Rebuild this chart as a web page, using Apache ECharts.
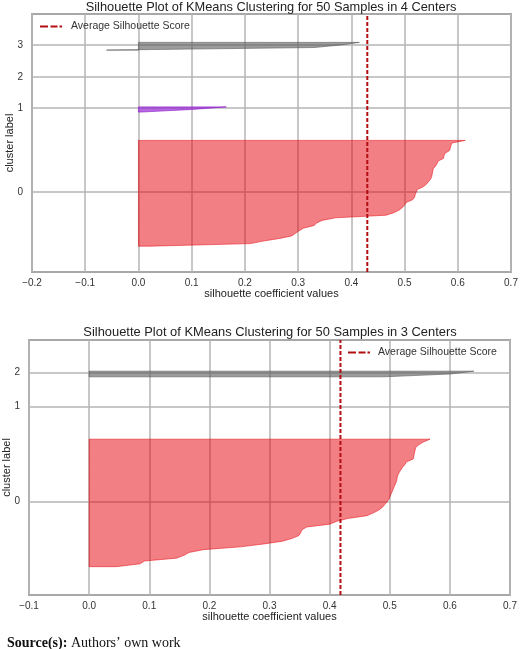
<!DOCTYPE html>
<html>
<head>
<meta charset="utf-8">
<title>Silhouette Plots</title>
<script src="https://cdn.jsdelivr.net/npm/echarts@6/dist/echarts.min.js"></script>
<style>
html, body { margin: 0; padding: 0; background: #fff; }
#silhouette-echarts { width: 520px; height: 649px; }
</style>
</head>
<body>
<div id="silhouette-echarts"></div>
<script>
// silhouette coefficient of every sample, per cluster, sorted ascending (bottom row first)
// 4 centers
var sil4Cluster0 = [0.02, 0.21, 0.235, 0.265, 0.288, 0.295, 0.302, 0.31, 0.33, 0.335,
  0.345, 0.37, 0.465, 0.48, 0.49, 0.496, 0.50, 0.504, 0.515, 0.519,
  0.52, 0.522, 0.524, 0.535, 0.541, 0.545, 0.549, 0.551, 0.552, 0.553,
  0.554, 0.558, 0.561, 0.563, 0.573, 0.574, 0.576, 0.584, 0.586, 0.587,
  0.589, 0.614];
var sil4Cluster1 = [0.005, 0.10, 0.165];
var sil4Cluster2 = [0];
var sil4Cluster3 = [-0.06, 0.33, 0.38, 0.415];
var avgScore4 = 0.43;

// 3 centers
var sil3Cluster0 = [0.045, 0.085, 0.092, 0.145, 0.158, 0.166, 0.19, 0.252, 0.29, 0.322,
  0.338, 0.349, 0.352, 0.354, 0.362, 0.40, 0.412, 0.43, 0.462, 0.473,
  0.482, 0.488, 0.492, 0.496, 0.499, 0.501, 0.503, 0.505, 0.507, 0.509,
  0.511, 0.512, 0.513, 0.515, 0.518, 0.521, 0.525, 0.528, 0.539, 0.54,
  0.541, 0.542, 0.543, 0.548, 0.556, 0.567];
var sil3Cluster1 = [0];
var sil3Cluster2 = [0.49, 0.60, 0.64];
var avgScore3 = 0.418;

var clusterColors4 = ["rgba(230,0,10,0.5)", "rgba(150,40,210,0.7)", "rgba(230,160,40,0.5)", "rgba(90,90,90,0.6)"];
var clusterColors3 = ["rgba(230,0,10,0.5)", "rgba(230,160,40,0.5)", "rgba(90,90,90,0.6)"];

var font = "'Liberation Sans', Arial, sans-serif";
var gridColor = "#b4b4b4";

// stack clusters like yellowbrick: 10 rows of space below/between clusters
function layoutClusters(list) {
  var yLower = 10;
  var out = [];
  var n = 0;
  list.forEach(function(values) {
    out.push({ values: values, y0: yLower, tick: yLower + 0.5 * values.length });
    yLower += values.length + 10;
    n += values.length;
  });
  return { clusters: out, yMax: n + (list.length + 1) * 10 };
}

var plot4 = layoutClusters([sil4Cluster0, sil4Cluster1, sil4Cluster2, sil4Cluster3]);
var plot3 = layoutClusters([sil3Cluster0, sil3Cluster1, sil3Cluster2]);

function renderer(clusters, colors) {
  return function(params, api) {
    var c = clusters[params.dataIndex];
    var pts = [];
    var i;
    for (i = 0; i < c.values.length; i++) pts.push(api.coord([0, c.y0 + i]));
    for (i = c.values.length - 1; i >= 0; i--) pts.push(api.coord([c.values[i], c.y0 + i]));
    return {
      type: "polygon",
      shape: { points: pts },
      style: { fill: colors[params.dataIndex], stroke: colors[params.dataIndex], lineWidth: 1 }
    };
  };
}

function tickFormat(v) {
  return (Math.round(v * 10) / 10).toFixed(1).replace("-", "\u2212");
}

function xAxisFor(gridIndex, min) {
  return {
    type: "value", gridIndex: gridIndex, min: min, max: 0.7, interval: 0.1,
    name: "silhouette coefficient values", nameLocation: "middle", nameGap: 16, nameMoveOverlap: false,
    nameTextStyle: { fontFamily: font, fontSize: 11, color: "#222" },
    axisLine: { show: false }, axisTick: { show: false },
    axisLabel: { formatter: tickFormat, fontFamily: font, fontSize: 10, color: "#333", margin: 6 },
    splitLine: { show: true, lineStyle: { color: gridColor, width: 1.5 } }
  };
}

function yAxisFor(gridIndex, plot) {
  var ticks = plot.clusters.map(function(c) { return c.tick; });
  return {
    type: "value", gridIndex: gridIndex, min: 0, max: plot.yMax,
    name: "cluster label", nameLocation: "middle", nameGap: 17, nameMoveOverlap: false,
    nameTextStyle: { fontFamily: font, fontSize: 11, color: "#222" },
    axisLine: { show: false },
    axisTick: { show: false, customValues: ticks },
    axisLabel: {
      customValues: ticks, fontFamily: font, fontSize: 10, color: "#333", margin: 9,
      formatter: function(v) { return String(ticks.indexOf(v)); }
    },
    splitLine: { show: true, lineStyle: { color: gridColor, width: 1.5 } }
  };
}

var dashIcon = "path://M0,0H8V2H0Z M10.5,0H17.5V2H10.5Z M19.5,0H22V2H19.5Z";
var avgColor = "#b30f12";

var option = {
  animation: false,
  backgroundColor: "#fff",
  title: [
    {
      text: "Silhouette Plot of KMeans Clustering for 50 Samples in 4 Centers",
      left: 271, textAlign: "center", top: 1, padding: 0,
      textStyle: { fontFamily: font, fontSize: 12.8, fontWeight: "normal", color: "#222" }
    },
    {
      text: "Silhouette Plot of KMeans Clustering for 50 Samples in 3 Centers",
      left: 270, textAlign: "center", top: 326, padding: 0,
      textStyle: { fontFamily: font, fontSize: 12.9, fontWeight: "normal", color: "#222" }
    },
    {
      text: "{b|Source(s):} Authors\u2019 own work",
      left: 2, top: 631,
      textStyle: {
        fontFamily: "'Liberation Serif', 'Times New Roman', serif", fontSize: 14, fontWeight: "normal", color: "#111",
        rich: { b: { fontFamily: "'Liberation Serif', 'Times New Roman', serif", fontSize: 14, fontWeight: "bold", color: "#111" } }
      }
    }
  ],
  legend: [
    {
      left: 40, top: 21, itemWidth: 22, itemHeight: 2.5, icon: dashIcon, padding: 0,
      data: ["Average Silhouette Score"],
      textStyle: { fontFamily: font, fontSize: 10.5, color: "#333", padding: [0, 0, 0, 4] }
    },
    {
      left: 348, top: 347, itemWidth: 22, itemHeight: 2.5, icon: dashIcon, padding: 0,
      data: ["Average Silhouette Score"],
      textStyle: { fontFamily: font, fontSize: 10.5, color: "#333", padding: [0, 0, 0, 3] }
    }
  ],
  grid: [
    { left: 32, right: 9, top: 14, height: 258, show: true, borderColor: "#a8a8a8", borderWidth: 2, outerBoundsMode: "none" },
    { left: 29, right: 10, top: 340, height: 255, show: true, borderColor: "#a8a8a8", borderWidth: 2, outerBoundsMode: "none" }
  ],
  xAxis: [xAxisFor(0, -0.2), xAxisFor(1, -0.1)],
  yAxis: [yAxisFor(0, plot4), yAxisFor(1, plot3)],
  series: [
    {
      type: "custom", xAxisIndex: 0, yAxisIndex: 0, silent: true,
      renderItem: renderer(plot4.clusters, clusterColors4),
      data: plot4.clusters.map(function(c) { return [0, c.tick]; })
    },
    {
      name: "Average Silhouette Score", type: "line", xAxisIndex: 0, yAxisIndex: 0,
      symbol: "none", itemStyle: { color: avgColor },
      lineStyle: { color: avgColor, width: 2, type: [4, 2] },
      data: [[avgScore4, 0], [avgScore4, plot4.yMax]]
    },
    {
      type: "custom", xAxisIndex: 1, yAxisIndex: 1, silent: true,
      renderItem: renderer(plot3.clusters, clusterColors3),
      data: plot3.clusters.map(function(c) { return [0, c.tick]; })
    },
    {
      name: "Average Silhouette Score", type: "line", xAxisIndex: 1, yAxisIndex: 1,
      symbol: "none", itemStyle: { color: avgColor },
      lineStyle: { color: avgColor, width: 2, type: [4, 2] },
      data: [[avgScore3, 0], [avgScore3, plot3.yMax]]
    }
  ]
};

var myChart = echarts.init(document.getElementById("silhouette-echarts"));
myChart.setOption(option);
</script>
</body>
</html>
